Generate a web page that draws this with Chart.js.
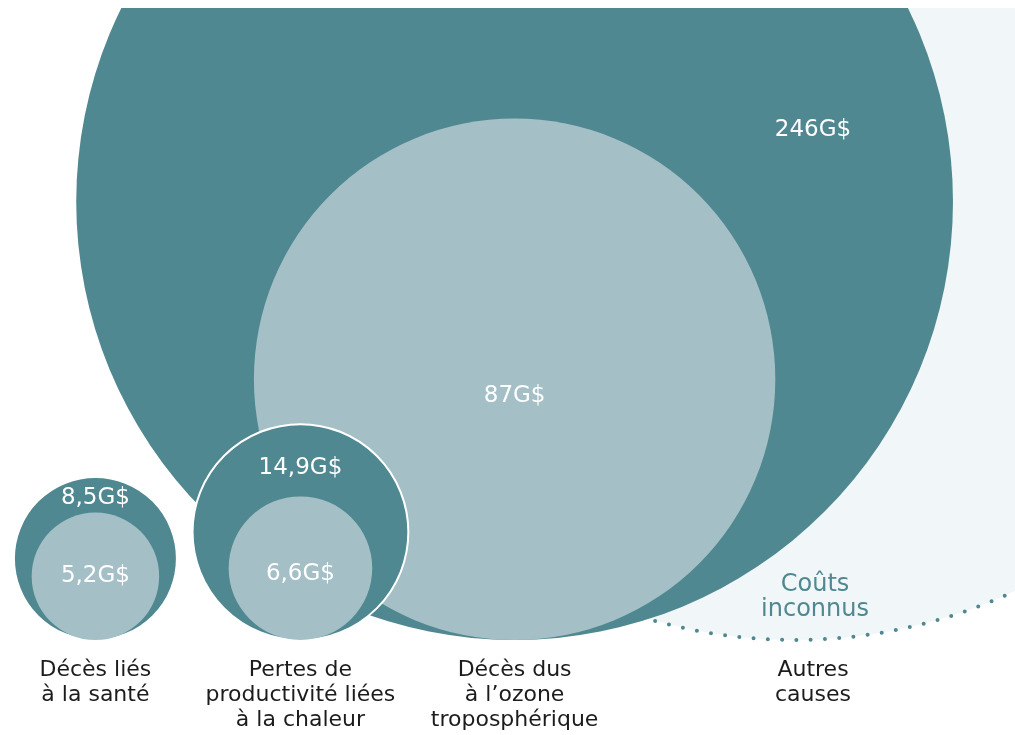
<!DOCTYPE html>
<html lang="fr">
<head>
<meta charset="utf-8">
<script src="https://cdn.jsdelivr.net/npm/chart.js@4.4.1/dist/chart.umd.min.js"></script>
<style>
  html, body { margin: 0; padding: 0; background: #fff; }
  #wrap { position: relative; width: 1015px; height: 735px; }
</style>
</head>
<body>
<div id="wrap"><canvas id="costChart"></canvas></div>
<script>
// --- data (G$) ---
const categories = [
  ['Décès liés', 'à la santé'],
  ['Pertes de', 'productivité liées', 'à la chaleur'],
  ['Décès dus', 'à l\u2019ozone', 'troposphérique'],
  ['Autres', 'causes']
];
const totalCosts = [8.5, 14.9, 246];
const partCosts = [5.2, 6.6, 87];
const unknownLabel = ['Coûts', 'inconnus'];

// --- layout / style ---
const slotX = [9.4, 29.6, 50.7, 80.1];   // column centres, x axis runs 0..100
const PX_PER_ROOT = 27.95;                // bubble radius = sqrt(value) * this
const unknownX = 78.3;                    // "coûts inconnus" circle, x units
const unknownR = 520;                     // px
const totalLabelDy = [3, 8];              // nudges for the ring labels
const partLabelDy = [0, 6, 17];
const TEAL = '#4f8890';
const LIGHT = '#a4c0c6';
const PALE = '#f1f7f8';
const FONT = '"DejaVu Sans", "Noto Sans", sans-serif';

const radiusOf = v => Math.sqrt(v) * PX_PER_ROOT;
// y axis is 1 unit = 1 px with 0 on the baseline, so a bubble sitting on the baseline has y = r
const bubble = (v, i) => ({ x: slotX[i], y: radiusOf(v), r: radiusOf(v), v });
const fmt = v => v.toLocaleString('fr-FR') + 'G$';

const totals = totalCosts.map(bubble);
const parts = partCosts.map(bubble);
const bigIdx = totalCosts.length - 1;

const unknownCircle = {
  id: 'unknownCircle',
  beforeDatasetsDraw(chart) {
    const { ctx, chartArea: a, scales: { x, y } } = chart;
    const cx = x.getPixelForValue(unknownX);
    const cy = y.getPixelForValue(unknownR);
    ctx.save();
    ctx.beginPath();
    ctx.rect(a.left, a.top, a.width, a.height);
    ctx.clip();
    ctx.beginPath();
    ctx.arc(cx, cy, unknownR, 0, Math.PI * 2);
    ctx.fillStyle = PALE;
    ctx.fill();
    ctx.setLineDash([0, 14.3]);
    ctx.lineCap = 'round';
    ctx.lineWidth = 4;
    ctx.strokeStyle = TEAL;
    ctx.stroke();
    ctx.restore();
  }
};

const textLabels = {
  id: 'textLabels',
  afterDatasetsDraw(chart) {
    const { ctx, scales: { x, y } } = chart;
    ctx.save();
    ctx.textAlign = 'center';
    ctx.textBaseline = 'middle';
    ctx.fillStyle = '#fff';
    ctx.font = '23px ' + FONT;

    totals.forEach((t, i) => {
      const px = x.getPixelForValue(t.x);
      if (i === bigIdx) {
        ctx.fillText(fmt(t.v), x.getPixelForValue(slotX[3]), y.getPixelForValue(510));
      } else {
        // middle of the ring between outer and inner top edges
        const outerTop = y.getPixelForValue(t.y) - t.r;
        const innerTop = y.getPixelForValue(parts[i].y) - parts[i].r;
        ctx.fillText(fmt(t.v), px, (outerTop + innerTop) / 2 + totalLabelDy[i]);
      }
    });
    parts.forEach((p, i) => {
      ctx.fillText(fmt(p.v), x.getPixelForValue(p.x), y.getPixelForValue(p.y) + partLabelDy[i]);
    });

    ctx.fillStyle = TEAL;
    ctx.font = '24px ' + FONT;
    unknownLabel.forEach((line, k) => {
      ctx.fillText(line, x.getPixelForValue(slotX[3]) + 2, y.getPixelForValue(55 - k * 25));
    });

    ctx.fillStyle = '#1c1c1c';
    ctx.font = '22px ' + FONT;
    categories.forEach((lines, i) => {
      lines.forEach((line, k) => {
        ctx.fillText(line, x.getPixelForValue(slotX[i]), y.getPixelForValue(-30 - k * 25));
      });
    });
    ctx.restore();
  }
};

const noClip = { left: false, right: false, bottom: false, top: 0 };

new Chart(document.getElementById('costChart'), {
  type: 'bubble',
  data: {
    datasets: [
      { label: 'total', data: [totals[bigIdx]], backgroundColor: TEAL, borderWidth: 0, order: 4, clip: noClip },
      { label: 'part', data: [parts[bigIdx]], backgroundColor: LIGHT, borderWidth: 0, order: 3, clip: noClip },
      { label: 'total small', data: totals.slice(0, bigIdx), backgroundColor: TEAL, borderColor: '#fff', borderWidth: 2, order: 2, clip: noClip },
      { label: 'part small', data: parts.slice(0, bigIdx), backgroundColor: LIGHT, borderWidth: 0, order: 1, clip: noClip }
    ]
  },
  options: {
    responsive: true,
    maintainAspectRatio: false,
    animation: false,
    events: [],
    layout: { autoPadding: false, padding: { top: 8, left: 0, right: 0, bottom: 0 } },
    scales: {
      x: { type: 'linear', min: 0, max: 100, display: false },
      y: { type: 'linear', min: -95, max: 632, display: false }
    },
    plugins: { legend: { display: false }, tooltip: { enabled: false } }
  },
  plugins: [unknownCircle, textLabels]
});
</script>
</body>
</html>
